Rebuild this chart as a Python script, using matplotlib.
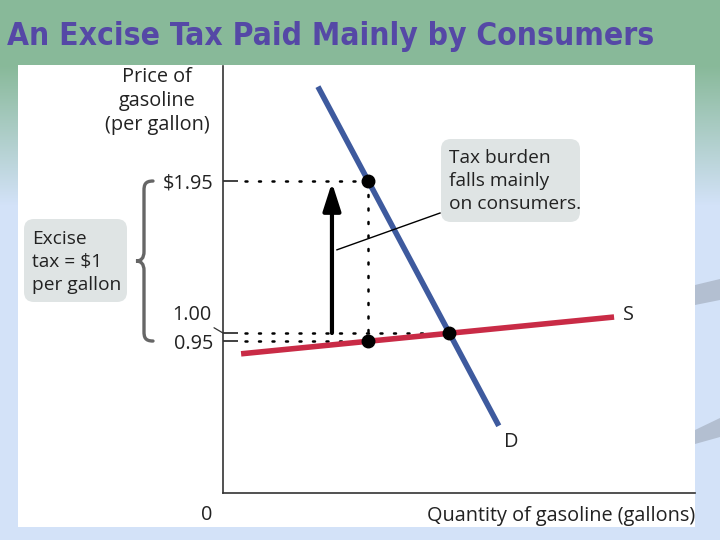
import numpy as np
import matplotlib
matplotlib.use("Agg")
from matplotlib import pyplot as plt
from matplotlib import transforms
from matplotlib.patches import FancyBboxPatch, PathPatch, Polygon
from matplotlib.path import Path

plt.rcParams["font.family"] = ["Open Sans", "DejaVu Sans"]

# curves (quantity, price) endpoints
demand_q = [4.2, 12.2]
demand_p = [2.54, 0.42]
supply_q = [0.8, 17.3]
supply_p = [0.87, 1.10]

# key prices and quantities
price_consumer = 1.95
price_equilibrium = 1.00
price_producer = 0.95
qty_taxed = 6.4
qty_equilibrium = 10.0
arrow_q = 4.82

ytick_values = [price_producer, price_consumer]
ytick_labels = ["0.95", "$1.95"]

BLUE = "#3e5a9e"
RED = "#c92b46"
TXT = "#222222"
BOX = "#dfe4e4"
FS = 14.3
FS_BOX = 13.8

fig = plt.figure(figsize=(7.2, 5.4), dpi=100)


def px(x, y):
    # pixel position -> inches from lower left
    return x / 100, (540 - y) / 100


# slide background
bg = fig.add_axes([0, 0, 1, 1], zorder=-10)
bg.set_axis_off()
top = np.array([0x88, 0xb9, 0x99]) / 255
low = np.array([0xd3, 0xe2, 0xf8]) / 255
rows = np.linspace(0, 1, 540)
w = np.clip((rows - 0.12) / 0.26, 0, 1)[:, None]
grad = top * (1 - w) + low * w
bg.imshow(np.repeat(grad[:, None, :], 2, axis=1), aspect="auto", extent=[0, 1, 0, 1])
bg.set_xlim(0, 1)
bg.set_ylim(0, 1)
for wedge in ([(695, 285), (720, 279), (720, 300), (695, 305)],
              [(695, 430), (720, 418), (720, 437), (695, 444)]):
    bg.add_patch(Polygon([(x / 720, 1 - y / 540) for x, y in wedge],
                         closed=True, facecolor="#b3bfd1", edgecolor="none"))
bg.add_patch(plt.Rectangle((18 / 720, 1 - 527 / 540), 677 / 720, 462 / 540,
                           facecolor="white", edgecolor="none"))

fig.text(*px(7, 36), "An Excise Tax Paid Mainly by Consumers",
         transform=fig.dpi_scale_trans, fontsize=22.8, fontweight="bold",
         color="#5548a6", va="center", ha="left", family=["DejaVu Sans"],
         fontstretch="condensed")

ax = fig.add_axes([223 / 720, 1 - 493 / 540, 472 / 720, 427 / 540])
ax.set_xlim(0, 20.88)
ax.set_ylim(0, 2.669)
ax.patch.set_alpha(0)
for side in ("top", "right"):
    ax.spines[side].set_visible(False)
for side in ("left", "bottom"):
    ax.spines[side].set_color("#333333")
    ax.spines[side].set_linewidth(1.2)

ax.set_xticks([])
ax.set_yticks(ytick_values + [price_equilibrium])
ax.set_yticklabels(ytick_labels + [""], fontsize=FS, color=TXT)
ax.tick_params(axis="y", direction="in", length=11, width=1.3, pad=7, colors="#333333",
               labelcolor=TXT)
ax.annotate("1.00", xy=(0, price_equilibrium), xytext=(-8, 13),
            textcoords="offset points", ha="right", va="center", fontsize=FS,
            color=TXT, annotation_clip=False,
            arrowprops=dict(arrowstyle="-", color="#333333", lw=0.9,
                            shrinkA=0, shrinkB=0))
ax.annotate("0", xy=(0, 0), xytext=(-12, -16), textcoords="offset points",
            ha="center", va="center", fontsize=FS, color=TXT, annotation_clip=False)
ax.set_xlabel("Quantity of gasoline (gallons)", loc="right", fontsize=FS,
              color=TXT, labelpad=9)

fig.text(*px(157, 101), "Price of\ngasoline\n(per gallon)",
         transform=fig.dpi_scale_trans, fontsize=FS, color=TXT,
         ha="center", va="center", linespacing=1.28)

# dotted guides
dot = dict(color="black", lw=1.8, linestyle=(0, (0.8, 4.6)), dash_capstyle="round")
ax.plot([0.97, qty_taxed], [price_consumer] * 2, **dot)
ax.plot([0.97, qty_equilibrium], [price_equilibrium] * 2, **dot)
ax.plot([0.97, qty_taxed], [price_producer] * 2, **dot)
ax.plot([qty_taxed] * 2, [price_consumer, price_producer], **dot)

ax.plot(supply_q, supply_p, color=RED, lw=4, solid_capstyle="butt")
ax.plot(demand_q, demand_p, color=BLUE, lw=4, solid_capstyle="butt")
ax.text(supply_q[1] + 0.4, supply_p[1] + 0.01, "S", fontsize=FS, color=TXT,
        ha="left", va="center")
ax.text(demand_q[1] + 0.55, demand_p[1] - 0.1, "D", fontsize=FS, color=TXT,
        ha="center", va="center")

ax.plot([qty_taxed, qty_taxed, qty_equilibrium],
        [price_consumer, price_producer, price_equilibrium],
        "o", color="black", markersize=9, zorder=5)

ax.annotate("", xy=(arrow_q, price_consumer - 0.01), xytext=(arrow_q, price_equilibrium),
            arrowprops=dict(arrowstyle="-|>,head_length=1.4,head_width=0.45",
                            color="black", lw=3, shrinkA=0, shrinkB=0,
                            mutation_scale=12))
ax.plot([5.04, 9.6], [1.52, 1.75], color="black", lw=1.0)

# callout boxes
for x0, y0, x1, y1 in ((441, 139, 580, 222), (24, 219, 127, 302)):
    bx, by = px(x0, y1)
    fig.patches.append(FancyBboxPatch((bx, by), (x1 - x0) / 100, (y1 - y0) / 100,
                                      boxstyle="round,pad=0,rounding_size=0.1",
                                      transform=fig.dpi_scale_trans,
                                      facecolor=BOX, edgecolor="none", zorder=1))
fig.text(*px(449, 181), "Tax burden\nfalls mainly\non consumers.",
         transform=fig.dpi_scale_trans, fontsize=FS_BOX, color=TXT,
         ha="left", va="center", linespacing=1.38, zorder=2)
fig.text(*px(32, 262), "Excise\ntax = $1\nper gallon",
         transform=fig.dpi_scale_trans, fontsize=FS_BOX, color=TXT,
         ha="left", va="center", linespacing=1.38, zorder=2)

# brace spanning the tax wedge
brace_tf = transforms.blended_transform_factory(fig.dpi_scale_trans, ax.transData)
hi, lo = price_consumer, price_producer
mid = (hi + lo) / 2
xr, xm, xl = 1.53, 1.44, 1.36
d = 0.06
verts = [(xr, hi), (xm + 0.01, hi), (xm, hi - d * 0.4), (xm, hi - d),
         (xm, mid + d),
         (xm, mid + d * 0.3), (xm - 0.03, mid), (xl, mid),
         (xm - 0.03, mid), (xm, mid - d * 0.3), (xm, mid - d),
         (xm, lo + d),
         (xm, lo + d * 0.4), (xm + 0.01, lo), (xr, lo)]
codes = [Path.MOVETO, Path.CURVE4, Path.CURVE4, Path.CURVE4,
         Path.LINETO,
         Path.CURVE4, Path.CURVE4, Path.CURVE4,
         Path.CURVE4, Path.CURVE4, Path.CURVE4,
         Path.LINETO,
         Path.CURVE4, Path.CURVE4, Path.CURVE4]
fig.patches.append(PathPatch(Path(verts, codes), transform=brace_tf, facecolor="none",
                             edgecolor="#666666", lw=2.4, capstyle="round"))

fig.savefig("out.png", dpi=100)
